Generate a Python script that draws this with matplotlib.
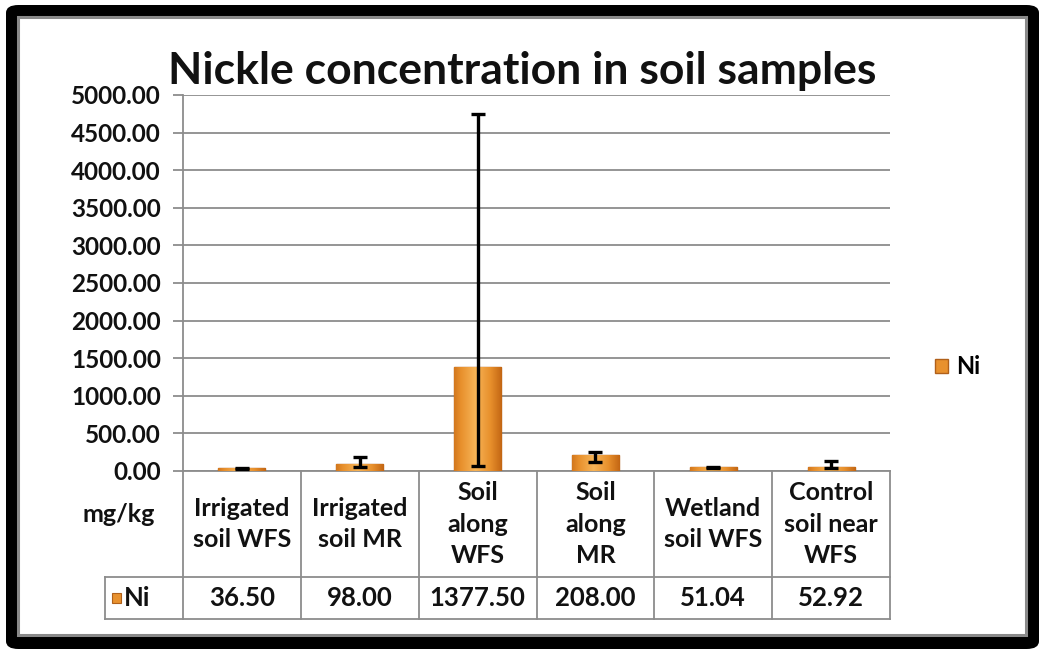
import numpy as np
import matplotlib
matplotlib.use("Agg")
import matplotlib.pyplot as plt
from matplotlib.patches import Rectangle, FancyBboxPatch
from matplotlib.transforms import blended_transform_factory

plt.rcParams['font.family'] = ['Lato', 'DejaVu Sans']
plt.rcParams['font.weight'] = 'bold'

categories = ["Irrigated\nsoil WFS", "Irrigated\nsoil MR", "Soil\nalong\nWFS",
              "Soil\nalong\nMR", "Wetland\nsoil WFS", "Control\nsoil near\nWFS"]
ni_values = [36.50, 98.00, 1377.50, 208.00, 51.04, 52.92]
err_low = [6, 45, 1310, 88, 6, 17]
err_high = [6, 88, 3372, 44, 6, 80]
y_ticks = [0, 500, 1000, 1500, 2000, 2500, 3000, 3500, 4000, 4500, 5000]
series_name = "Ni"
unit_label = "mg/kg"
title = "Nickle concentration in soil samples"

W, H = 1039, 649
fig = plt.figure(figsize=(W / 100, H / 100), dpi=100)
fig.patch.set_facecolor("white")

def fx(x):
    return x / W

def fy(y):
    return 1 - y / H

# black frame with grey inner line
frame = FancyBboxPatch((fx(6), fy(649)), fx(1039) - fx(6), fy(5) - fy(649),
                       boxstyle="round,pad=0,rounding_size=0.012",
                       transform=fig.transFigure, facecolor="black", edgecolor="none",
                       zorder=-3)
fig.patches.append(frame)
inner = Rectangle((fx(18), fy(635)), fx(1026) - fx(18), fy(17) - fy(635),
                  transform=fig.transFigure, facecolor="white", edgecolor="#8a8a8a", lw=2.2,
                  zorder=-2)
fig.patches.append(inner)

ax = fig.add_axes([fx(183), fy(471), fx(890) - fx(183), fy(95) - fy(471)])
ax.set_facecolor("none")
x = np.arange(len(ni_values))
bars = ax.bar(x, ni_values, width=0.4, color="#E8912E", edgecolor="#B0601A",
              linewidth=1.0, label=series_name, zorder=3)

# orange gradient inside each bar
grad = np.linspace(0, 1, 64)
grad = 1 - np.abs(grad - 0.45) * 1.6
grad = grad.reshape(1, -1)
cmap = matplotlib.colors.LinearSegmentedColormap.from_list(
    "org", ["#B85A0C", "#E8902C", "#F7B457"])
for b in bars:
    im = ax.imshow(grad, extent=(b.get_x(), b.get_x() + b.get_width(), 0, b.get_height()),
                   aspect="auto", cmap=cmap, vmin=0, vmax=1, zorder=3.5)
    im.set_clip_path(b)

ax.errorbar(x, ni_values, yerr=[err_low, err_high], fmt="none", ecolor="black",
            elinewidth=2.4, capsize=5, capthick=2.4, zorder=5)

ax.set_xlim(-0.5, len(ni_values) - 0.5)
ax.set_ylim(0, 5000)
ax.set_yticks(y_ticks)
ax.set_yticklabels([f"{v:.2f}" for v in y_ticks], fontsize=17.5, fontweight="bold")
ax.set_xticks([])
ax.yaxis.grid(True, color="#8c8c8c", lw=1.3, zorder=0)
ax.set_axisbelow(True)
for s in ["top", "right", "bottom"]:
    ax.spines[s].set_visible(False)
ax.spines["left"].set_color("#8c8c8c")
ax.spines["left"].set_linewidth(1.3)
ax.tick_params(axis="y", length=7, width=1.3, color="#8c8c8c", pad=9, labelcolor="#111111")

ax.set_title(title, fontsize=32, fontweight="bold", pad=8, x=0.48, color="#111111")

# data table under the plot
tr = blended_transform_factory(ax.transData, ax.transAxes)
px_h = 471 - 95
y_head = -(577 - 471) / px_h
y_bot = -(619 - 471) / px_h
x_lab = -0.5 - (183 - 105) / ((890 - 183) / len(ni_values))
x_right = len(ni_values) - 0.5
lc = "#8c8c8c"
for i in range(len(ni_values) + 1):
    ax.plot([i - 0.5, i - 0.5], [0, y_bot], color=lc, lw=1.3, transform=tr, clip_on=False)
ax.plot([-0.5, x_right], [0, 0], color=lc, lw=1.3, transform=tr, clip_on=False)
ax.plot([x_lab, x_lab], [y_head, y_bot], color=lc, lw=1.3, transform=tr, clip_on=False)
ax.plot([x_lab, x_right], [y_head, y_head], color=lc, lw=1.3, transform=tr, clip_on=False)
ax.plot([x_lab, x_right], [y_bot, y_bot], color=lc, lw=1.3, transform=tr, clip_on=False)

for i, (cat, v) in enumerate(zip(categories, ni_values)):
    ax.text(i, y_head / 2, cat, transform=tr, ha="center", va="center",
            fontsize=18, fontweight="bold", linespacing=1.45, color="#111111")
    ax.text(i, (y_head + y_bot) / 2, f"{v:.2f}", transform=tr, ha="center", va="center",
            fontsize=18.5, fontweight="bold", color="#111111")

ax.text(x_lab + 0.12, -(514 - 471) / px_h, unit_label, transform=tr, ha="center", va="center",
        fontsize=18, fontweight="bold", color="#111111")
ax.add_patch(Rectangle((x_lab + 0.06, (y_head + y_bot) / 2 - 0.013), 0.08, 0.026,
                       transform=tr, facecolor="#E8912E", edgecolor="#B0601A",
                       lw=0.8, clip_on=False))
ax.text(x_lab + 0.16, (y_head + y_bot) / 2, series_name, transform=tr, ha="left", va="center",
        fontsize=18.5, fontweight="bold", color="#111111")

fig.legend(handles=[bars], labels=[series_name], loc="center left",
           bbox_to_anchor=(fx(914), fy(367)), frameon=False,
           handlelength=0.55, handleheight=0.55, handletextpad=0.35,
           prop={"size": 17, "weight": "bold"})

fig.savefig("out.png", dpi=100)
